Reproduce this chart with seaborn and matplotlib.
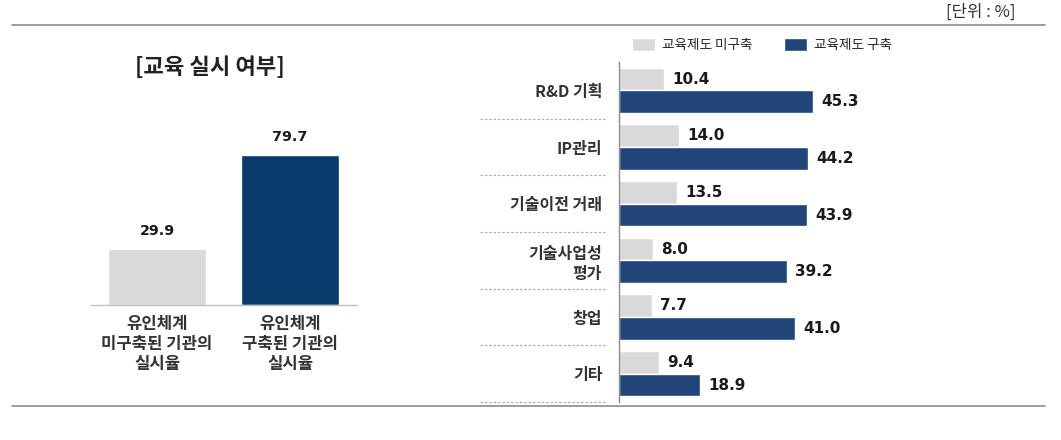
import matplotlib
matplotlib.use("Agg")
import matplotlib.pyplot as plt
import matplotlib.transforms as mtransforms
import seaborn as sns
import pandas as pd

# ---- data ----
left_categories = ["유인체계\n미구축된 기관의\n실시율", "유인체계\n구축된 기관의\n실시율"]
left_values = [29.9, 79.7]

right_categories = ["R&D 기획", "IP관리", "기술이전 거래", "기술사업성\n평가", "창업", "기타"]
series_names = ["교육제도 미구축", "교육제도 구축"]
not_built = [10.4, 14.0, 13.5, 8.0, 7.7, 9.4]
built = [45.3, 44.2, 43.9, 39.2, 41.0, 18.9]

left_title = "[교육 실시 여부]"
unit_text = "[단위 : %]"

# ---- style ----
sns.set_style("white")
plt.rcParams['font.family'] = ['Noto Sans CJK KR', 'DejaVu Sans']
GRAY = "#D9D9D9"
NAVY_L = "#083A6C"
NAVY_R = "#1F4579"
TXT = "#1a1a1a"
NUM_FONT = ['DejaVu Sans']

W, H = 1061, 440
fig = plt.figure(figsize=(W / 100, H / 100), dpi=100)

def px_axes(x0, y_top, x1, y_bot):
    return fig.add_axes([x0 / W, 1 - y_bot / H, (x1 - x0) / W, (y_bot - y_top) / H])

# frame lines
fig.add_artist(plt.Line2D([12 / W, 1045 / W], [1 - 25 / H, 1 - 25 / H], color="#8c8c8c", lw=1.2))
fig.add_artist(plt.Line2D([12 / W, 1045 / W], [1 - 406 / H, 1 - 406 / H], color="#8c8c8c", lw=1.2))
fig.text(1016 / W, 1 - 12 / H, unit_text, ha="right", va="center", fontsize=12, color="#333333")

# ---- left chart ----
ax1 = px_axes(90.5, 100, 356.5, 305)
ldf = pd.DataFrame({"cat": left_categories, "val": left_values})
sns.barplot(data=ldf, x="cat", y="val", hue="cat", palette=[GRAY, NAVY_L],
            width=0.737, legend=False, ax=ax1, saturation=1)
ax1.set_xlim(-0.5, 1.5)
ax1.set_ylim(0, 109)
ax1.set_xlabel("")
ax1.set_ylabel("")
ax1.set_yticks([])
for s in ["top", "right", "left"]:
    ax1.spines[s].set_visible(False)
ax1.spines["bottom"].set_color("#bfbfbf")
ax1.spines["bottom"].set_linewidth(1)
ax1.tick_params(axis="x", length=0, pad=7)
for lab in ax1.get_xticklabels():
    lab.set_fontsize(12)
    lab.set_fontweight("bold")
    lab.set_color("#333333")
    lab.set_linespacing(1.15)
for c in ax1.containers:
    ax1.bar_label(c, fmt="%.1f", padding=8, fontsize=10.3, fontweight="bold",
                  color=TXT, family=NUM_FONT)
fig.text(210 / W, 1 - 68 / H, left_title, ha="center", va="center",
         fontsize=16, fontweight="bold", color="#222222")

# ---- right chart ----
ax2 = px_axes(619, 62, 1000, 402)
rdf = pd.DataFrame({
    "cat": right_categories * 2,
    "series": [series_names[0]] * len(right_categories) + [series_names[1]] * len(right_categories),
    "val": not_built + built,
})
sns.barplot(data=rdf, y="cat", x="val", hue="series", orient="h",
            palette=[GRAY, NAVY_R], width=0.8, ax=ax2, saturation=1)
ax2.set_ylim(5.5, -0.5)
ax2.set_xlim(0, 89)
ax2.set_xlabel("")
ax2.set_ylabel("")
ax2.set_xticks([])
for s in ["top", "right", "bottom"]:
    ax2.spines[s].set_visible(False)
ax2.spines["left"].set_color("#8c8c8c")
ax2.spines["left"].set_linewidth(1)
ax2.tick_params(axis="y", length=0, pad=12)
for lab in ax2.get_yticklabels():
    lab.set_fontsize(11.5)
    lab.set_fontweight("bold")
    lab.set_color("#333333")
    lab.set_linespacing(1.3)
for c in ax2.containers:
    ax2.bar_label(c, fmt="%.1f", padding=6, fontsize=11, fontweight="bold",
                  color=TXT, family=NUM_FONT)

trans = mtransforms.blended_transform_factory(ax2.transAxes, ax2.transData)
for yb in [0.5, 1.5, 2.5, 3.5, 4.5, 5.5]:
    ax2.plot([(480 - 619) / 381, (605 - 619) / 381], [yb, yb], transform=trans,
             clip_on=False, color="#b0b0b0", lw=0.9, linestyle=(0, (2, 1.5)))

handles, labels = ax2.get_legend_handles_labels()
ax2.get_legend().remove()
fig.legend(handles, labels, loc="center left", bbox_to_anchor=(632 / W, 1 - 45 / H),
           ncol=2, frameon=False, handlelength=1.7, handleheight=1.1,
           columnspacing=2.3, handletextpad=0.5, borderpad=0, borderaxespad=0,
           prop={"size": 9.8})

fig.savefig("out.png", dpi=100)
